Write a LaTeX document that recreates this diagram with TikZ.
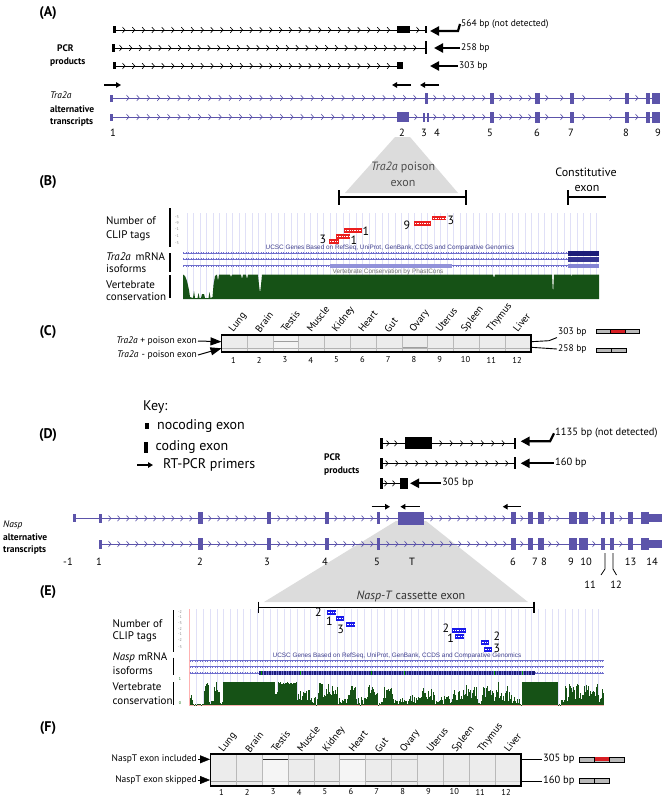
\documentclass[tikz,border=0pt]{standalone}
\usepackage{fontspec}
\setmainfont{PT Sans}
\newfontfamily\ucscfont{Liberation Sans}
\usetikzlibrary{arrows.meta}

\definecolor{exonblue}{RGB}{92,84,170}
\definecolor{consgreen}{RGB}{22,82,22}
\definecolor{clipred}{RGB}{235,30,30}
\definecolor{clipblue}{RGB}{25,25,235}
\definecolor{gridlav}{RGB}{224,224,247}
\definecolor{ucscnavy}{RGB}{28,28,120}
\definecolor{isoblue}{RGB}{110,110,205}
\definecolor{trigray}{RGB}{220,220,220}
\definecolor{gelgray}{RGB}{236,236,236}
\definecolor{bandred}{RGB}{215,30,35}

\newcommand{\fs}[1]{\fontsize{#1}{#1}\selectfont}
\newcommand{\chev}[3]{\draw[#3, line width=0.65pt] (#1-1.5,#2-2.8) -- (#1+1,#2) -- (#1-1.5,#2+2.8);}
\newcommand{\ex}[5]{\fill[#5] (#1,{#3-#4/2}) rectangle (#2,{#3+#4/2});}
\newcommand{\isorow}[3]{\draw[isoblue, line width=0.5pt] (#1,#3) -- (#2,#3);
    \draw[isoblue, line width=2pt, dash pattern=on 0.5pt off 2pt] (#1,#3) -- (#2,#3);}
\newcommand{\tagbox}[5]{\fill[#5] (#1,#3) rectangle (#2,#4);
    \draw[white, line width=1pt, dash pattern=on 0.6pt off 1.1pt] ({#1+1},{(#3+#4)/2}) -- ({#2-1},{(#3+#4)/2});}
\newcommand{\tratail}[1]{%
    \foreach \x in {435,444.5,454,464,474,484,501,511,521,530,547,562,584,611,637} {\chev{\x}{#1}{exonblue}}
    \ex{490}{494}{#1}{11}{exonblue}
    \ex{535}{540}{#1}{11}{exonblue}
    \ex{569.5}{574}{#1}{11}{exonblue}
    \ex{624.5}{629}{#1}{11}{exonblue}
    \ex{645.5}{650}{#1}{11}{exonblue}
    \ex{652}{660}{#1}{11}{exonblue}}
\newcommand{\nasphead}[1]{%
    \foreach \x in {110,119,...,191,210,219,...,256,279,288,...,316,336,345,...,372} {\chev{\x}{#1}{exonblue}}
    \ex{98.8}{102.2}{#1}{9}{exonblue}
    \ex{198.3}{202.7}{#1}{12}{exonblue}
    \ex{266.7}{271}{#1}{12}{exonblue}
    \ex{325}{329}{#1}{12}{exonblue}
    \ex{377}{380.4}{#1}{12}{exonblue}}
\newcommand{\nasptail}[1]{%
    \foreach \x in {522,550,558,594,621} {\chev{\x}{#1}{exonblue}}
    \ex{511}{515.5}{#1}{12}{exonblue}
    \ex{528}{533}{#1}{12}{exonblue}
    \ex{537.6}{543.6}{#1}{12}{exonblue}
    \ex{568.7}{577}{#1}{12}{exonblue}
    \ex{579}{588}{#1}{12}{exonblue}
    \ex{600.7}{605}{#1}{12}{exonblue}
    \ex{610}{614.3}{#1}{12}{exonblue}
    \ex{628}{632.6}{#1}{12}{exonblue}
    \ex{641}{649}{#1}{12}{exonblue}
    \ex{649}{662}{#1}{8}{exonblue}}

\begin{document}
\begin{tikzpicture}[x=1pt, y=-1pt,
    panel/.style={font=\fs{14}\bfseries, inner sep=0pt},
    side/.style={font=\fs{9.5}\bfseries, anchor=west, inner sep=0pt},
    bp/.style={font=\fs{9.5}, anchor=west, inner sep=1pt},
    exnum/.style={font=\fs{10.5}, inner sep=0pt},
    track/.style={font=\fs{11}, anchor=west, inner sep=0pt},
    keytext/.style={font=\fs{14}, anchor=west, inner sep=0pt},
    tick/.style={font=\fs{4}, text=gray, inner sep=0pt},
    tagnum/.style={font=\fs{12}, inner sep=0pt},
    ucsc/.style={font=\ucscfont\fs{6.4}, text=ucscnavy!85, inner sep=0pt},
    lane/.style={font=\fs{10}, rotate=52, anchor=west, inner sep=0pt},
    lanenum/.style={font=\fs{8.5}, inner sep=0pt},
    gellab/.style={font=\fs{9.5}, anchor=east, inner sep=1pt},
    pcrarrow/.style={-{Triangle[length=9pt,width=9pt]}, line width=2.2pt},
    primer/.style={-{Triangle[length=5pt,width=5.5pt]}, line width=1.3pt},
    gelarrow/.style={-{Triangle[length=11pt,width=8pt]}, line width=1pt},
    bar/.style={line width=1.4pt}]

    \useasboundingbox (0,0) rectangle (668,800);

    \node[panel] (pA) at (48,13) {(A)};

    \draw[line width=0.8pt] (114,30) -- (426,30);
    \foreach \x in {124,133.8,...,390} {\chev{\x}{30}{black}}
    \chev{418}{30}{black}
    \ex{113}{116}{30}{7}{black}
    \ex{397}{410}{30}{7}{black}
    \ex{425}{427}{30}{7}{black}

    \draw[line width=0.8pt] (112,48) -- (426,48);
    \foreach \x in {121,130.8,...,418} {\chev{\x}{48}{black}}
    \ex{112}{114.5}{48}{7.5}{black}
    \ex{425}{427}{48}{13}{black}

    \draw[line width=0.8pt] (114,66) -- (403,66);
    \foreach \x in {124,133.8,...,390} {\chev{\x}{66}{black}}
    \ex{113}{116}{66}{7}{black}
    \ex{397}{403}{66}{7}{black}

    \node[bp] (l564) at (460,24) {564 bp (not detected)};
    \node[bp] (l258) at (460,48) {258 bp};
    \node[bp] (l303) at (458,66) {303 bp};
    \coordinate (t564) at (430,31);
    \coordinate (t258) at (434,48);
    \coordinate (t303) at (430,66);
    \draw[pcrarrow] (l564.west) -- ++(-2,7) -- (t564);
    \draw[pcrarrow] (l258.west) -- (t258);
    \draw[pcrarrow] (l303.west) -- (t303);

    \node[side] (pcrA) at (57,48) {PCR};
    \node[side] (prodA) at (50,62) {products};

    \coordinate (pa1) at (104,85); \coordinate (pa2) at (121,85);
    \coordinate (pa3) at (411,85); \coordinate (pa4) at (392,85);
    \coordinate (pa5) at (439,85); \coordinate (pa6) at (420,85);
    \draw[primer] (pa1) -- (pa2);
    \draw[primer] (pa3) -- (pa4);
    \draw[primer] (pa5) -- (pa6);

    \fill[trigray] (395,137) -- (410,137) -- (458,193) -- (345,193) -- cycle;

    \draw[exonblue, line width=0.9pt] (110,98) -- (660,98);
    \foreach \x in {128,138.25,...,416} {\chev{\x}{98}{exonblue}}
    \ex{109.5}{112.5}{98}{7}{exonblue}
    \ex{424.5}{428}{98}{11}{exonblue}
    \tratail{98}

    \draw[exonblue, line width=0.9pt] (110,117) -- (660,117);
    \foreach \x in {128,138.25,...,390} {\chev{\x}{117}{exonblue}}
    \chev{416}{117}{exonblue}
    \ex{109.5}{112.5}{117}{7}{exonblue}
    \ex{397}{409}{117}{9.5}{exonblue}
    \ex{423}{425.3}{117}{9}{exonblue}
    \ex{427}{429}{117}{9}{exonblue}
    \tratail{117}

    \node[font=\fs{9.5}\itshape, anchor=west, inner sep=0pt] (traA) at (50,95) {Tra2a};
    \node[side] (altA) at (50,109) {alternative};
    \node[side] (trsA) at (50,122) {transcripts};

    \foreach \n/\x in {1/113,2/402,3/424,4/437,5/490,6/537,7/571,8/626,9/658}
        {\node[exnum] (ea\n) at (\x,133) {\n};}

    \node[panel] (pB) at (48,182) {(B)};
    \node[font=\fs{12}, text=black!70, inner sep=0pt] (poi1) at (403,167) {\textit{Tra2a} poison};
    \node[font=\fs{12}, text=black!70, inner sep=0pt] (poi2) at (403,183) {exon};
    \draw[bar] (339,197) -- (466,197);
    \draw[bar] (339,190) -- (339,205);
    \draw[bar] (466,190) -- (466,205);
    \node[font=\fs{12}, inner sep=0pt] (con1) at (586,172) {Constitutive};
    \node[font=\fs{12}, inner sep=0pt] (con2) at (587,188) {exon};
    \draw[bar] (568,197) -- (606,197);
    \draw[bar] (568,190) -- (568,205);

    \foreach \x in {187,193.5,...,599} {\draw[gridlav, line width=0.6pt] (\x,213) -- (\x,299);}
    \foreach \t/\y in {-3/217,-9/223,-1/229,-1/236,-3/243} {\node[tick] at (177,\y) {\t};}
    \tagbox{329}{339}{239}{244}{clipred}
    \tagbox{336}{350}{234}{238.5}{clipred}
    \tagbox{344}{362}{228}{232.5}{clipred}
    \tagbox{414}{431}{221}{226}{clipred}
    \tagbox{432}{446}{216}{220}{clipred}
    \node[tagnum] (nb1) at (323,239.5) {3};
    \node[tagnum] (nb2) at (354,240) {1};
    \node[tagnum] (nb3) at (366,231) {1};
    \node[tagnum] (nb4) at (407,225) {9};
    \node[tagnum] (nb5) at (451,220) {3};

    \node[ucsc] (genB) at (390,248) {UCSC Genes Based on RefSeq, UniProt, GenBank, CCDS and Comparative Genomics};
    \isorow{183}{568}{253}
    \isorow{183}{568}{259.3}
    \isorow{183}{568}{265.7}
    \fill[ucscnavy] (568,251) rectangle (599,256);
    \fill[ucscnavy!70!isoblue] (568,256.8) rectangle (599,261.8);
    \fill[isoblue!85] (568,264) rectangle (599,267.5);
    \fill[isoblue!75] (330,264) rectangle (452,267.5);
    \node[ucsc, text=black!55] (phB) at (388,272) {Vertebrate Conservation by PhastCons};

    \fill[consgreen] (183,299) -- (183,274.5) -- (185,276) -- (187,281) -- (189,290) -- (190,297)
        -- (193,298) -- (194,291) -- (195,298) -- (197.5,298) -- (198.5,293) -- (199.5,298)
        -- (201,298) -- (202,294) -- (204,294) -- (205,298) -- (208.5,298) -- (209.5,292)
        -- (210.5,298) -- (212.5,297) -- (213.5,285) -- (215,276) -- (217,274.5) -- (218,281)
        -- (219,274.5) -- (230,274.5) -- (231,277) -- (232,274.5) -- (241,274.5) -- (242,279)
        -- (243,274.5) -- (246,274.5) -- (247,279) -- (248,274.5) -- (258,274.5) -- (259,285)
        -- (260,293) -- (261,285) -- (262,274.5) -- (493,274.5) -- (494,278) -- (495,274.5)
        -- (552,274.5) -- (553,294) -- (554,274.5) -- (571,274.5) -- (571.5,277) -- (572,274.5)
        -- (599,274.5) -- (599,299) -- cycle;

    \draw[bar] (170,208) -- (170,247);
    \draw[bar] (170,253) -- (170,272);
    \draw[bar] (170,275) -- (170,298);
    \node[track] (numB) at (106,221) {Number of};
    \node[track] (clipB) at (106,236) {CLIP tags};
    \node[track] (mrnaB) at (106,257) {\textit{Tra2a}\, mRNA};
    \node[track] (isoB) at (106,269) {isoforms};
    \node[track] (verB) at (106,285) {Vertebrate};
    \node[track] (consB) at (106,297) {conservation};

    \node[panel] (pC) at (48,332) {(C)};
    \fill[gelgray] (221.5,335) rectangle (531,352);
    \fill[gray!9] (273.1,335) rectangle (298.9,352);
    \draw[gray!60, line width=0.7pt] (221.5,348.3) -- (531,348.3);
    \draw[gray!75, line width=0.7pt] (273.1,341.7) -- (298.9,341.7);
    \draw[gray!75, line width=0.7pt] (402,347.5) -- (427.8,347.5);
    \foreach \i in {1,...,11} {\draw[gray!55, line width=0.8pt] ({221.5+25.79*\i},335) -- ++(0,17);}
    \draw[line width=1.3pt] (221.5,335) rectangle (531,352);
    \foreach \i/\t in {1/Lung,2/Brain,3/Testis,4/Muscle,5/Kidney,6/Heart,7/Gut,8/Ovary,9/Uterus,10/Spleen,11/Thymus,12/Liver}
        {\node[lane] (cl\i) at ({221.5+25.79*(\i-0.5)-3},331) {\t};
         \node[lanenum] (cn\i) at ({221.5+25.79*(\i-0.5)-1},360) {\i};}

    \node[gellab] (cplus) at (198,341) {\textit{Tra2a} + poison exon};
    \node[gellab] (cminus) at (198,355) {\textit{Tra2a}\,\,- poison exon};
    \coordinate (gcup) at (221.5,341.7);
    \coordinate (gclo) at (221.5,348.3);
    \draw[gelarrow] (cplus.east) -- (gcup);
    \draw[gelarrow] (cminus.east) -- (gclo);

    \node[bp] (c303) at (557,332) {303 bp};
    \node[bp] (c258) at (557,349) {258 bp};
    \draw[line width=0.9pt] (531,341.7) -- (549,340.7) -- (c303.south west);
    \draw[line width=0.9pt] (531,347.3) -- (c258.west);
    \draw[fill=gray!55, line width=0.6pt] (596,329.3) rectangle (639,333.7);
    \fill[bandred] (610.8,329.8) rectangle (625.2,333.2);
    \draw[line width=0.4pt] (610.5,329.3) -- (610.5,333.7) (625.5,329.3) -- (625.5,333.7);
    \draw[fill=gray!55, line width=0.6pt] (596,348) rectangle (626,352.4);
    \draw[line width=0.4pt] (611,348) -- (611,352.4);

    \node[panel] (pD) at (48,435) {(D)};
    \node[keytext] (key) at (143,407) {Key:};
    \ex{145}{149}{426}{6}{black}
    \node[keytext] (knc) at (157,425.7) {nocoding exon};
    \ex{143.5}{147.5}{447}{11}{black}
    \node[keytext] (kce) at (155.5,446.7) {coding exon};
    \coordinate (kp1) at (137,465); \coordinate (kp2) at (153,465);
    \draw[primer] (kp1) -- (kp2);
    \node[keytext] (kpr) at (163,465) {RT-PCR primers};

    \draw[line width=0.8pt] (381,443.3) -- (515,443.3);
    \foreach \x in {388,396,441,451.4,...,510} {\chev{\x}{443.3}{black}}
    \ex{380}{382.5}{443.3}{10.7}{black}
    \ex{404.7}{432.4}{443.3}{12.3}{black}
    \ex{514}{516}{443.3}{10.7}{black}

    \draw[line width=0.8pt] (381,463.3) -- (515,463.3);
    \foreach \x in {387,397,...,508} {\chev{\x}{463.3}{black}}
    \ex{380}{382.5}{463.3}{10.7}{black}
    \ex{514}{516}{463.3}{12}{black}

    \draw[line width=0.8pt] (381,483.3) -- (402,483.3);
    \foreach \x in {386,394} {\chev{\x}{483.3}{black}}
    \ex{380}{382.5}{483.3}{10.7}{black}
    \ex{400.4}{408}{483.3}{10.7}{black}

    \node[bp, font=\fs{10.5}] (l1135) at (554,433.3) {1135 bp (not detected)};
    \node[bp, font=\fs{10.5}] (l160) at (554,463.3) {160 bp};
    \node[bp, font=\fs{10.5}] (l305) at (441,483.3) {305 bp};
    \coordinate (t1135) at (520.6,441.3);
    \coordinate (t160) at (520.6,463.3);
    \coordinate (t305) at (410,483.3);
    \draw[pcrarrow] (l1135.west) -- ++(-4,8) -- (t1135);
    \draw[pcrarrow] (l160.west) -- (t160);
    \draw[pcrarrow] (l305.west) -- (t305);
    \node[side] (pcrD) at (324,456.7) {PCR};
    \node[side] (prodD) at (324,470.7) {products};

    \coordinate (pd1) at (371.5,506.7); \coordinate (pd2) at (390,506.7);
    \coordinate (pd3) at (419.6,506.7); \coordinate (pd4) at (400.4,506.7);
    \coordinate (pd5) at (520.6,506.7); \coordinate (pd6) at (502.7,506.7);
    \draw[primer] (pd1) -- (pd2);
    \draw[primer] (pd3) -- (pd4);
    \draw[primer] (pd5) -- (pd6);

    \fill[trigray] (396,521) -- (426,521) -- (528,602) -- (264,602) -- cycle;

    \draw[exonblue, line width=0.9pt] (74,518.3) -- (662,518.3);
    \ex{73.3}{75.8}{518.3}{8}{exonblue}
    \nasphead{518.3}
    \foreach \x in {388,432,441,...,505} {\chev{\x}{518.3}{exonblue}}
    \ex{398}{424}{518.3}{12.7}{exonblue}
    \nasptail{518.3}

    \draw[exonblue, line width=0.9pt] (99,544) -- (662,544);
    \nasphead{544}
    \foreach \x in {388,397,...,505} {\chev{\x}{544}{exonblue}}
    \nasptail{544}

    \node[font=\fs{9.5}\itshape, anchor=west, inner sep=0pt] (naspD) at (3,525) {Nasp};
    \node[side] (altD) at (3,537) {alternative};
    \node[side] (trsD) at (3,550) {transcripts};

    \foreach \n/\x in {-1/68,1/99,2/200,3/267,4/325,5/377,T/412,6/513,7/535,8/544,9/571,10/586,13/630.5,14/652}
        {\node[exnum] (en\n) at (\x,562) {\n};}
    \node[exnum] (en11) at (590,585) {11};
    \node[exnum] (en12) at (616,585) {12};
    \draw[line width=0.8pt] (605,553) -- (605,569) -- (601,575);
    \draw[line width=0.8pt] (613,553) -- (613,569) -- (616.5,575);

    \node[panel] (pE) at (48,592) {(E)};
    \node[font=\fs{12}, text=black!80, inner sep=0pt] (cas) at (411,596) {\textit{Nasp-T} cassette exon};
    \draw[bar] (258.6,607.3) -- (533.8,607.3);
    \draw[bar] (258.6,601.7) -- (258.6,613.3);
    \draw[bar] (533.8,601.7) -- (533.8,613.3);

    \foreach \x in {196.7,203.4,...,604} {\draw[gridlav, line width=0.6pt] (\x,609) -- (\x,705);}
    \draw[red!30, line width=0.5pt] (189.5,609) -- (189.5,705) -- (604,705);
    \foreach \t/\y in {-2/611.7,-1/617,-3/623.3,-2/629,-1/634.3,-2/640,-3/646.7} {\node[tick] at (180,\y) {\t};}
    \node[tick, text=green!40!black] (ax1) at (180,679) {1};
    \node[tick, text=green!40!black] (ax0) at (180,703.3) {0};
    \tagbox{326.7}{335.7}{610}{615}{clipblue}
    \tagbox{336}{344}{616}{620.7}{clipblue}
    \tagbox{345.7}{355}{622.3}{627.3}{clipblue}
    \tagbox{452.3}{465.7}{628.3}{633}{clipblue}
    \tagbox{455}{464.3}{634.3}{639.3}{clipblue}
    \tagbox{480.5}{488.6}{640}{645}{clipblue}
    \tagbox{483.5}{492}{646.7}{651.7}{clipblue}
    \node[tagnum] (ne1) at (318.3,612.3) {2};
    \node[tagnum] (ne2) at (329.3,621) {1};
    \node[tagnum] (ne3) at (340.7,629) {3};
    \node[tagnum] (ne4) at (446,628.3) {2};
    \node[tagnum] (ne5) at (450.7,638.3) {1};
    \node[tagnum] (ne6) at (497,636.7) {2};
    \node[tagnum] (ne7) at (497,648.3) {3};

    \node[ucsc] (genE) at (397,656) {UCSC Genes Based on RefSeq, UniProt, GenBank, CCDS and Comparative Genomics};
    \isorow{189.6}{604}{660.7}
    \isorow{189.6}{604}{666.7}
    \isorow{189.6}{604}{672.9}
    \fill[ucscnavy] (258.6,670.7) rectangle (534.6,675.3);
    \foreach \x in {261,263.5,...,533} {\draw[isoblue, line width=0.3pt] (\x,670.9) -- (\x,675.1);}
    \foreach \x in {260.7,300,370.6,403.8,494,522} {\fill[green!60!black] (\x,670.7) rectangle ++(0.9,4.6);}

    \pgfmathsetseed{11}
    \foreach \a/\b/\lo/\hi in {190/192/2/10, 193/203/0/2, 204/208/10/23.3, 209/213/0/6, 214/219/12/23.3,
        220/222/0/4, 223/274/23.3/23.3, 275/277/10/15, 278/296/21/23.3, 297/299/2/12, 300/310/5/18,
        311/317/0/8, 318/337/8/22, 338/347/0/8, 348/355/10/22, 356/367/0/10, 368/377/8/20,
        378/382/0/6, 383/392/6/18, 393/409/0/7, 410/421/2/12, 422/434/5/18, 435/451/0/10,
        452/465/5/16, 466/477/6/20, 478/481/0/5, 482/511/4/23.3, 512/521/0/8, 522/557/23.3/23.3,
        558/561/0/5, 562/603/3/21}
        {\foreach \x in {\a,...,\b}
            {\pgfmathsetmacro\hh{\lo+(\hi-\lo)*rnd}
             \fill[consgreen] (\x,705) rectangle ({\x+1.05},{705-\hh});}}

    \draw[bar] (173.5,610) -- (173.5,651.7);
    \draw[bar] (173.5,657.7) -- (173.5,675);
    \draw[bar] (173.5,682) -- (173.5,705);
    \node[track] (numE) at (112.5,624) {Number of};
    \node[track] (clipE) at (112.5,637) {CLIP tags};
    \node[track] (mrnaE) at (112.5,658) {\textit{Nasp} mRNA};
    \node[track] (isoE) at (112.5,671) {isoforms};
    \node[track] (verE) at (112.5,687) {Vertebrate};
    \node[track] (consE) at (112.5,701) {conservation};

    \node[panel] (pF) at (48,728) {(F)};
    \fill[gelgray] (210.5,754) rectangle (521,786);
    \foreach \i in {3,6} {\fill[gray!8] ({210.5+25.875*(\i-1)},754) rectangle ++(25.875,32);}
    \foreach \i/\c in {3/black!85,6/gray!85,4/gray!55,7/gray!55,8/gray!55}
        {\draw[\c, line width=0.9pt] ({210.5+25.875*(\i-1)},759.3) -- ++(25.875,0);}
    \foreach \i/\c in {1/gray!75,2/gray!70,3/gray!25,4/gray!75,5/gray!70,6/gray!30,7/gray!75,8/gray!75,9/gray!35,10/gray!40,11/gray!35,12/gray!35}
        {\draw[\c, line width=0.9pt] ({210.5+25.875*(\i-1)},781) -- ++(25.875,0);}
    \foreach \i in {1,...,11} {\draw[gray!55, line width=1pt] ({210.5+25.875*\i},754) -- ++(0,32);}
    \draw[line width=1.3pt] (210.5,754) rectangle (521,786);
    \foreach \i/\t in {1/Lung,2/Brain,3/Testis,4/Muscle,5/Kidney,6/Heart,7/Gut,8/Ovary,9/Uterus,10/Spleen,11/Thymus,12/Liver}
        {\node[lane] (fl\i) at ({210.5+25.875*(\i-0.5)-2},751) {\t};
         \node[lanenum] (fn\i) at ({210.5+25.875*(\i-0.5)-2},792) {\i};}

    \node[gellab] (finc) at (198,759.3) {NaspT exon included};
    \node[gellab] (fskp) at (198,780) {NaspT exon skipped};
    \coordinate (gfup) at (210,759.3);
    \coordinate (gflo) at (210,780);
    \draw[-{Triangle[length=10pt,width=8pt]}] (finc.east) -- (gfup);
    \draw[-{Triangle[length=10pt,width=8pt]}] (fskp.east) -- (gflo);

    \node[bp, font=\fs{10.5}] (f305) at (542,759.3) {305 bp};
    \node[bp, font=\fs{10.5}] (f160) at (542,781) {160 bp};
    \draw[line width=0.9pt] (521,759.3) -- (f305.west);
    \draw[line width=0.9pt] (521,781) -- (f160.west);
    \draw[fill=gray!55, line width=0.6pt] (579,756.8) rectangle (624,761.8);
    \fill[bandred] (594.8,757.3) rectangle (608.7,761.3);
    \draw[line width=0.4pt] (594.5,756.8) -- (594.5,761.8) (609,756.8) -- (609,761.8);
    \draw[fill=gray!55, line width=0.6pt] (579,778.5) rectangle (609,783.5);
    \draw[line width=0.4pt] (594,778.5) -- (594,783.5);

\end{tikzpicture}
\end{document}
